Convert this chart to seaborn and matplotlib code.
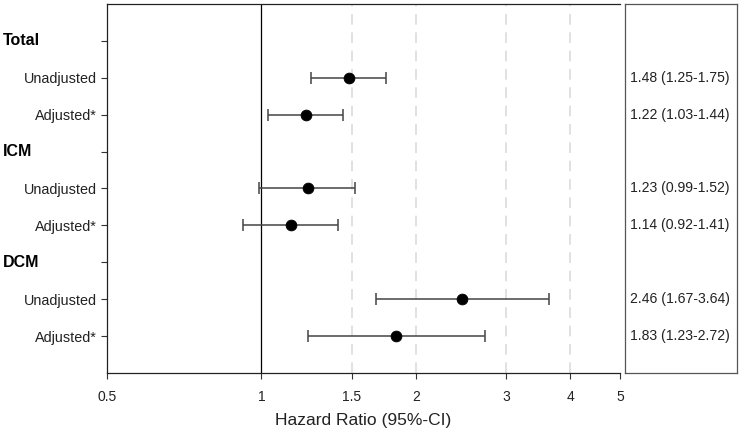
import matplotlib
matplotlib.use('Agg')
import matplotlib.pyplot as plt
import seaborn as sns
import pandas as pd

# rows of the forest plot, top to bottom
row_labels = ['Total', 'Unadjusted', 'Adjusted*', 'ICM', 'Unadjusted', 'Adjusted*',
              'DCM', 'Unadjusted', 'Adjusted*']
header_rows = [0, 3, 6]

# estimates (only on the non-header rows)
est_rows = [1, 2, 4, 5, 7, 8]
hr = [1.48, 1.22, 1.23, 1.14, 2.46, 1.83]
lo = [1.25, 1.03, 0.99, 0.92, 1.67, 1.23]
hi = [1.75, 1.44, 1.52, 1.41, 3.64, 2.72]

x_ticks = [0.5, 1, 1.5, 2, 3, 4, 5]
x_ticklabels = ['0.5', '1', '1.5', '2', '3', '4', '5']
ref_lines = [1.5, 2, 3, 4]

df = pd.DataFrame({'row': est_rows, 'hr': hr, 'lo': lo, 'hi': hi})
df['pos'] = df['row'] + 1
df['txt'] = [f'{h:.2f} ({l:.2f}-{u:.2f})' for h, l, u in zip(hr, lo, hi)]

sns.set_style('white')
plt.rcParams['font.family'] = ['Liberation Sans', 'DejaVu Sans']

fig = plt.figure(figsize=(7.4, 4.36), dpi=100)
ax = fig.add_axes([0.1446, 0.1445, 0.6935, 0.8465])
ax2 = fig.add_axes([0.8446, 0.1445, 0.152, 0.8465])

ax.set_xscale('log')
for v in ref_lines:
    ax.axvline(v, color='#d9d9d9', lw=1.1, ls=(0, (7, 5)), zorder=0)
ax.axvline(1, color='black', lw=0.9, zorder=1)

ax.errorbar(df['hr'], df['pos'], xerr=[df['hr'] - df['lo'], df['hi'] - df['hr']],
            fmt='none', ecolor='#444444', elinewidth=1.1, capsize=4, capthick=1.1, zorder=2)
sns.scatterplot(data=df, x='hr', y='pos', ax=ax, color='black', s=60,
                edgecolor='black', zorder=3, legend=False)

ax.set_xlim(0.5, 5)
ax.set_ylim(10, 0)
ax.set_xticks(x_ticks)
ax.set_xticklabels(x_ticklabels, fontsize=10, color='#222222')
ax.minorticks_off()
ax.set_yticks(range(1, 10))
ax.set_yticklabels(['' if i in header_rows else lab for i, lab in enumerate(row_labels)],
                   fontsize=10.4, color='#222222')
# group headers, left-aligned at the figure edge
for i in header_rows:
    ax.text(-0.202, i + 1, row_labels[i], transform=ax.get_yaxis_transform(),
            ha='left', va='center', fontsize=11.5, fontweight='bold', color='black')
ax.tick_params(axis='both', direction='out', length=4, width=0.8, color='#333333',
               left=True, bottom=True)
ax.tick_params(axis='x', pad=8)
ax.set_xlabel('Hazard Ratio (95%-CI)', fontsize=12.5, color='#222222', labelpad=7)
ax.set_ylabel('')
for side in ['left', 'bottom', 'top', 'right']:
    ax.spines[side].set_color('#222222')
    ax.spines[side].set_linewidth(0.9)
ax.spines['right'].set_visible(False)

# right panel with the numbers
ax2.set_xlim(0, 1)
ax2.set_ylim(10, 0)
ax2.set_xticks([])
ax2.set_yticks([])
for side in ax2.spines:
    ax2.spines[side].set_color('#555555')
    ax2.spines[side].set_linewidth(0.9)
for p, s in zip(df['pos'], df['txt']):
    ax2.text(0.04, p, s, va='center', ha='left', fontsize=10.1, color='#222222')

fig.savefig('out.png', dpi=100)
